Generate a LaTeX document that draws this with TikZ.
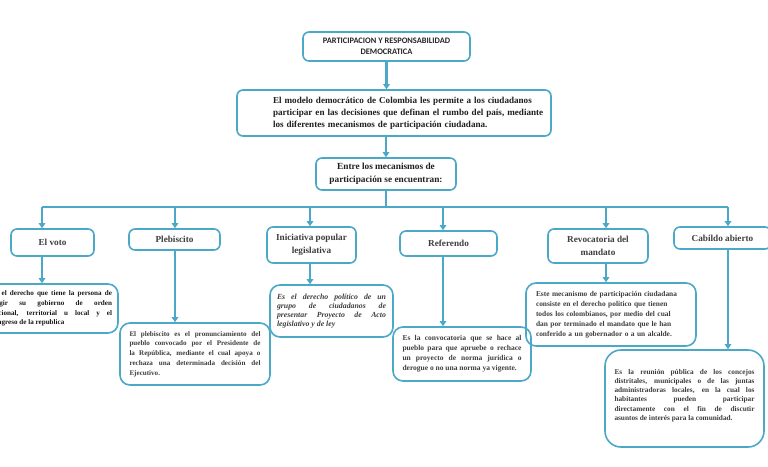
\documentclass[tikz,border=0pt]{standalone}
\usepackage{fontspec}
\setmainfont{Liberation Serif}
\newfontfamily\titlefont{Carlito}
\usetikzlibrary{arrows.meta}
\definecolor{azul}{RGB}{75,168,198}
\definecolor{gris}{RGB}{62,62,62}

\tikzset{
  caja/.style={draw=azul, line width=1.6, rounded corners=6, inner sep=0pt, align=center, text=gris},
  tema/.style={caja, font=\bfseries\fontsize{9.2}{12.5}\selectfont},
  texto/.style={caja, rounded corners=10, align=justify, font=\bfseries\fontsize{7.1}{9.8}\selectfont},
}

\begin{document}
\begin{tikzpicture}[x=1pt, y=-1pt, >={Triangle[width=6.5pt,length=5pt]}]
\fill[white] (0,0) rectangle (768,466);
\useasboundingbox (0,0) rectangle (768,466);
% nodes %

\node[caja, minimum width=167pt, minimum height=29pt, text=black!85, font=\titlefont\bfseries\fontsize{8.4}{11.5}\selectfont] (titulo) at (386.5,46.5) {PARTICIPACION Y RESPONSABILIDAD\\DEMOCRATICA};
\node[caja, minimum width=314pt, minimum height=46pt, text width=314pt, align=left, text=black!88, font=\bfseries\fontsize{9.1}{12}\selectfont] (modelo) at (394,113) {\hspace*{36pt}El modelo democrático de Colombia les permite a los ciudadanos\\\hspace*{36pt}participar en las decisiones que definan el rumbo del país, mediante\\\hspace*{36pt}los diferentes mecanismos de participación ciudadana.};
\node[caja, minimum width=140pt, minimum height=32pt, text=black!88, font=\bfseries\fontsize{9.3}{12.5}\selectfont] (entre) at (386,174) {Entre los mecanismos de\\participación se encuentran:};

\node[tema, minimum width=83pt, minimum height=27pt] (voto) at (52.5,242.5) {El voto};
\node[tema, minimum width=91pt, minimum height=21pt] (plebiscito) at (174.5,239.5) {Plebiscito};
\node[tema, minimum width=89pt, minimum height=36pt] (iniciativa) at (311.5,245) {Iniciativa popular\\legislativa};
\node[tema, minimum width=97pt, minimum height=25pt] (referendo) at (448.5,243.5) {Referendo};
\node[tema, minimum width=100pt, minimum height=34pt, font=\bfseries\fontsize{9.2}{13}\selectfont] (revocatoria) at (598,246) {Revocatoria del\\mandato};
\node[tema, minimum width=97pt, minimum height=22pt] (cabildo) at (722.5,238) {Cabildo abierto};

\node[texto, minimum width=133pt, minimum height=49pt, text width=121pt, text=black!90] (dvoto) at (51.5,308.5) {Es el derecho que tiene la persona de\linebreak elegir su gobierno de orden\linebreak nacional, territorial u local y el\linebreak congreso de la republica};
\node[texto, minimum width=150pt, minimum height=62pt, text width=131pt] (dplebiscito) at (195,354) {El plebiscito es el pronunciamiento del\linebreak pueblo convocado por el Presidente de\linebreak la República, mediante el cual apoya o\linebreak rechaza una determinada decisión del\linebreak Ejecutivo.};
\node[texto, minimum width=123pt, minimum height=52pt, text width=109pt, font=\bfseries\itshape\fontsize{7.8}{9.2}\selectfont] (diniciativa) at (331.5,311) {Es el derecho político de un\linebreak grupo de ciudadanos de\linebreak presentar Proyecto de Acto\linebreak legislativo y de ley};
\node[texto, minimum width=138pt, minimum height=54pt, text width=119pt, font=\bfseries\fontsize{7.5}{10}\selectfont] (dreferendo) at (462,354) {Es la convocatoria que se hace al\linebreak pueblo para que apruebe o rechace\linebreak un proyecto de norma jurídica o\linebreak derogue o no una norma ya vigente.};
\node[texto, minimum width=170pt, minimum height=63pt, text width=150pt, align=left, font=\bfseries\fontsize{7.4}{10}\selectfont] (drevocatoria) at (611,314.5) {Este mecanismo de participación ciudadana\\consiste en el derecho político que tienen\\todos los colombianos, por medio del cual\\dan por terminado el mandato que le han\\conferido a un gobernador o a un alcalde.};
\node[texto, rounded corners=16, minimum width=159pt, minimum height=97pt, text width=140pt, font=\bfseries\fontsize{7.3}{9.3}\selectfont] (dcabildo) at (684.5,398.5) {Es la reunión pública de los concejos\linebreak distritales, municipales o de las juntas\linebreak administradoras locales, en la cual los\linebreak habitantes pueden participar\linebreak directamente con el fin de discutir\linebreak asuntos de interés para la comunidad.\par\vspace*{6pt}};

\coordinate (b1) at (42,207);
\coordinate (b2) at (175,207);
\coordinate (b3) at (310,207);
\coordinate (b4) at (443,207);
\coordinate (b5) at (606,207);
\coordinate (b6) at (728,207);

% edges %
\draw[->, line width= 2.2, azul] (titulo.south) -- (titulo.south |- modelo.north);
\draw[->, line width= 2.2, azul] (entre.north |- modelo.south) -- (entre.north);
\draw[line width= 2.2, azul] (entre.south) -- (entre.south |- b1);
\draw[line width= 2.2, azul] (b1) -- (b6);
\draw[->, line width= 2.2, azul] (b1) -- (b1 |- voto.north);
\draw[->, line width= 2.2, azul] (b2) -- (b2 |- plebiscito.north);
\draw[->, line width= 2.2, azul] (b3) -- (b3 |- iniciativa.north);
\draw[->, line width= 2.2, azul] (b4) -- (b4 |- referendo.north);
\draw[->, line width= 2.2, azul] (b5) -- (b5 |- revocatoria.north);
\draw[->, line width= 2.2, azul] (b6) -- (b6 |- cabildo.north);
\draw[->, line width= 2.2, azul] (b1 |- voto.south) -- (b1 |- dvoto.north);
\draw[->, line width= 2.2, azul] (b2 |- plebiscito.south) -- (b2 |- dplebiscito.north);
\draw[->, line width= 2.2, azul] (b3 |- iniciativa.south) -- (b3 |- diniciativa.north);
\draw[->, line width= 2.2, azul] (b4 |- referendo.south) -- (b4 |- dreferendo.north);
\draw[->, line width= 2.2, azul] (b5 |- revocatoria.south) -- (b5 |- drevocatoria.north);
\draw[->, line width= 2.2, azul] (b6 |- cabildo.south) -- (b6 |- dcabildo.north);

\end{tikzpicture}
\end{document}
